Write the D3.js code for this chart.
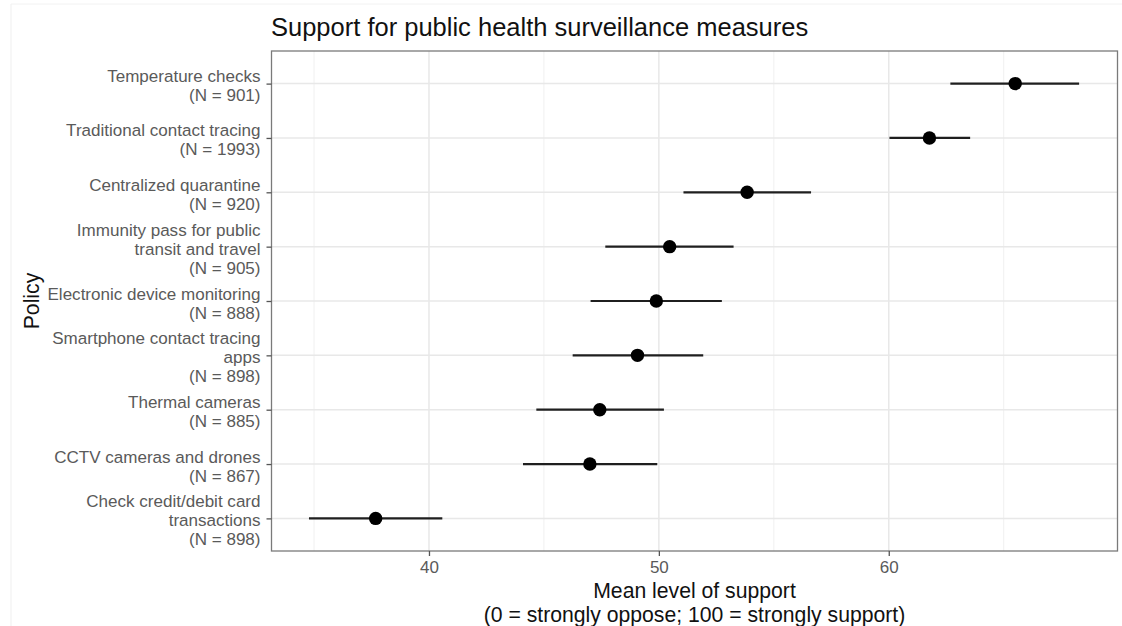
<!DOCTYPE html>
<html>
<head>
<meta charset="utf-8">
<script src="https://cdn.jsdelivr.net/npm/d3@7"></script>
<style>
  html, body { margin: 0; padding: 0; background: #fff; }
  svg { display: block; font-family: "Liberation Sans", Arial, Helvetica, sans-serif; }
</style>
</head>
<body>
<svg id="chart" width="1122" height="626"></svg>
<script>
// ---- data ----
const policies = [
  ["Temperature checks", "(N = 901)"],
  ["Traditional contact tracing", "(N = 1993)"],
  ["Centralized quarantine", "(N = 920)"],
  ["Immunity pass for public", "transit and travel", "(N = 905)"],
  ["Electronic device monitoring", "(N = 888)"],
  ["Smartphone contact tracing", "apps", "(N = 898)"],
  ["Thermal cameras", "(N = 885)"],
  ["CCTV cameras and drones", "(N = 867)"],
  ["Check credit/debit card", "transactions", "(N = 898)"]
];
const meanSupport = [65.5, 61.77, 53.84, 50.47, 49.89, 49.07, 47.43, 47.0, 37.68];
const ciLow  = [62.68, 60.03, 51.07, 47.67, 47.03, 46.25, 44.67, 44.09, 34.78];
const ciHigh = [68.28, 63.54, 56.62, 53.25, 52.74, 51.93, 50.22, 49.93, 40.58];
const xMajorTicks = [40, 50, 60];
const xMinorTicks = [35, 45, 55, 65];

const titleText = "Support for public health surveillance measures";
const xTitle = ["Mean level of support", "(0 = strongly oppose; 100 = strongly support)"];
const yTitle = "Policy";

// ---- layout ----
const svg = d3.select("#chart");
const panel = { left: 271.5, right: 1117.5, top: 51, bottom: 551 };

// faint page frame
svg.append("line").attr("x1", 11).attr("x2", 11).attr("y1", 4).attr("y2", 626)
  .attr("stroke", "#efefef").attr("stroke-width", 1);
svg.append("line").attr("x1", 11).attr("x2", 1122).attr("y1", 4).attr("y2", 4)
  .attr("stroke", "#f2f2f2").attr("stroke-width", 1);

const x = d3.scaleLinear().domain([33.15, 69.95]).range([panel.left, panel.right]);
const idx = d3.range(policies.length);
const y = d3.scalePoint().domain(idx).range([panel.top, panel.bottom]).padding(0.6);

// gridlines
const g = svg.append("g");
g.selectAll("line.minor").data(xMinorTicks).join("line")
  .attr("x1", d => x(d)).attr("x2", d => x(d))
  .attr("y1", panel.top).attr("y2", panel.bottom)
  .attr("stroke", "#f0f0f0").attr("stroke-width", 1);
g.selectAll("line.major").data(xMajorTicks).join("line")
  .attr("x1", d => x(d)).attr("x2", d => x(d))
  .attr("y1", panel.top).attr("y2", panel.bottom)
  .attr("stroke", "#e8e8e8").attr("stroke-width", 1.5);
g.selectAll("line.hgrid").data(idx).join("line")
  .attr("x1", panel.left).attr("x2", panel.right)
  .attr("y1", d => y(d)).attr("y2", d => y(d))
  .attr("stroke", "#e8e8e8").attr("stroke-width", 1.5);

// error bars
svg.append("g").selectAll("line").data(idx).join("line")
  .attr("x1", i => x(ciLow[i])).attr("x2", i => x(ciHigh[i]))
  .attr("y1", i => y(i)).attr("y2", i => y(i))
  .attr("stroke", "#1f1f1f").attr("stroke-width", 2.2);

// points
svg.append("g").selectAll("circle").data(idx).join("circle")
  .attr("cx", i => x(meanSupport[i])).attr("cy", i => y(i))
  .attr("r", 6.7).attr("fill", "#000");

// panel border
svg.append("rect")
  .attr("x", panel.left).attr("y", panel.top)
  .attr("width", panel.right - panel.left).attr("height", panel.bottom - panel.top)
  .attr("fill", "none").attr("stroke", "#7a7a7a").attr("stroke-width", 1.3);

// x axis
const xAxis = d3.axisBottom(x).tickValues(xMajorTicks).tickSize(5).tickPadding(5).tickFormat(d3.format("d"));
const xg = svg.append("g").attr("transform", `translate(0,${panel.bottom})`).call(xAxis);
xg.select(".domain").remove();
xg.selectAll(".tick line").attr("stroke", "#555").attr("stroke-width", 1.3);
xg.selectAll(".tick text").attr("fill", "#5a5a5a").attr("font-size", "17px")
  .attr("font-family", "'Liberation Sans', Arial, sans-serif");

// y axis
const yAxis = d3.axisLeft(y).tickSize(5).tickPadding(6).tickFormat("");
const yg = svg.append("g").attr("transform", `translate(${panel.left},0)`).call(yAxis);
yg.select(".domain").remove();
yg.selectAll(".tick line").attr("stroke", "#555").attr("stroke-width", 1.3);
const lineH = 19;
yg.selectAll(".tick text").each(function(i) {
  const t = d3.select(this);
  const lines = policies[i];
  const n = lines.length;
  t.attr("fill", "#5a5a5a").attr("font-size", "17.05px")
   .attr("font-family", "'Liberation Sans', Arial, sans-serif")
   .attr("dy", null).attr("text-anchor", "end");
  lines.forEach((s, k) => {
    t.append("tspan").attr("x", -11)
     .attr("y", (k - (n - 1) / 2) * lineH + 7.5)
     .text(s);
  });
});

// title
svg.append("text").attr("x", panel.left - 0.5).attr("y", 36)
  .attr("font-size", "25.5px").attr("fill", "#111").text(titleText);

// x title
const cx = (panel.left + panel.right) / 2;
svg.append("text").attr("text-anchor", "middle").attr("font-size", "21.2px").attr("fill", "#111")
  .selectAll("tspan").data(xTitle).join("tspan")
  .attr("x", cx).attr("y", (d, k) => 598 + k * 24.3).text(d => d);

// y title
svg.append("text").attr("transform", `translate(38.5,${(panel.top + panel.bottom) / 2}) rotate(-90)`)
  .attr("text-anchor", "middle").attr("font-size", "21.2px").attr("fill", "#111").text(yTitle);
</script>
</body>
</html>
